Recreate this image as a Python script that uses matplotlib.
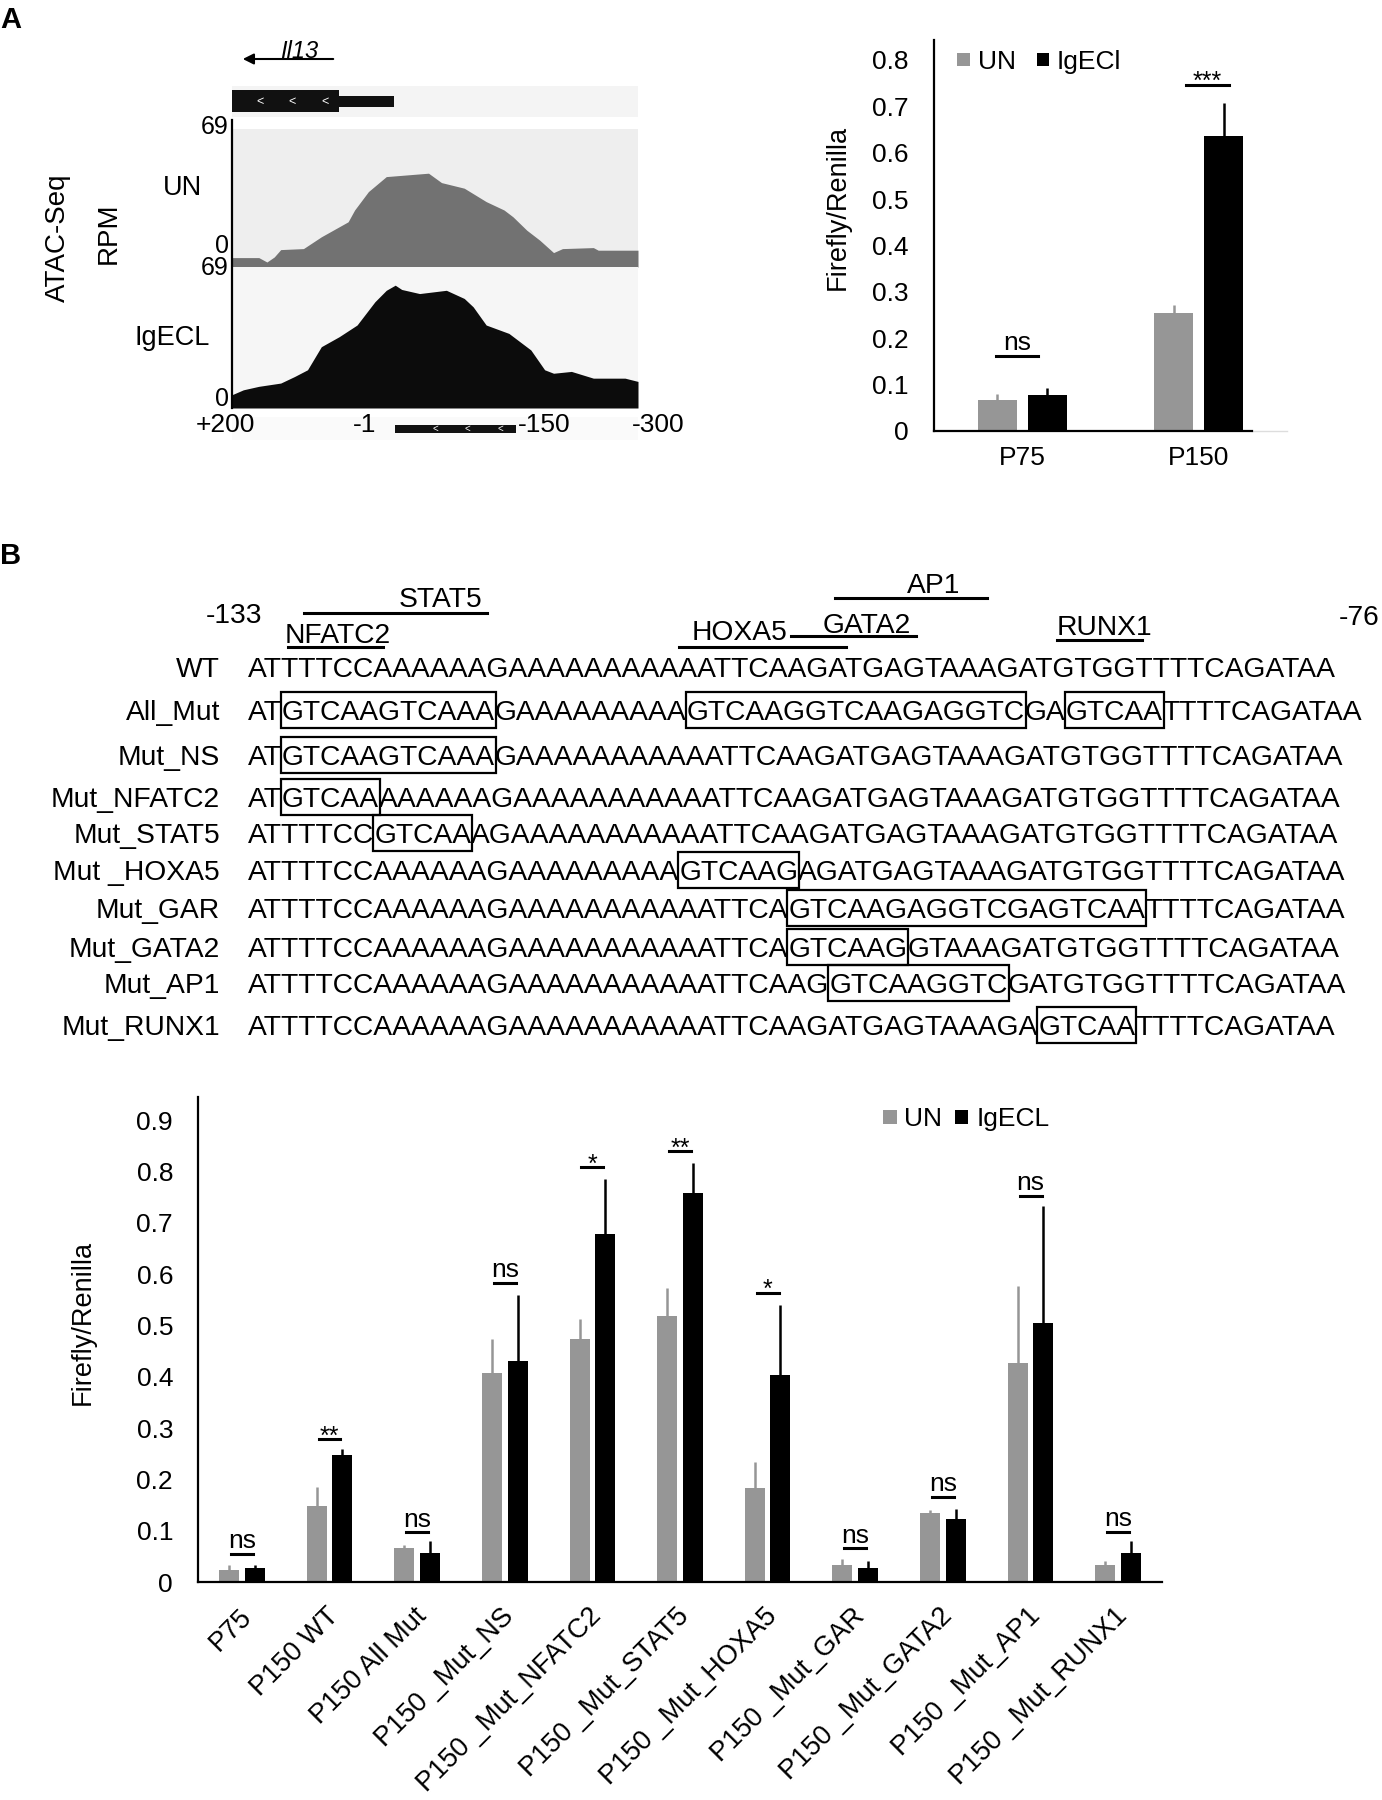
import re
import matplotlib.pyplot as plt
from matplotlib.patches import Rectangle

plt.rcParams['font.family'] = ['Liberation Sans', 'DejaVu Sans']
plt.rcParams['axes.linewidth'] = 1.6

# ---------------- panel A, ATAC-seq coverage (bp from TSS, RPM) ----------------
atac_un_pos = [200, 167, 157, 148, 140, 112, 90, 68, 57, 49, 32, 10, -42, -58, -86,
               -113, -135, -146, -163, -179, -196, -207, -245, -251, -300]
atac_un_rpm = [4.7, 4.7, 2.5, 5.0, 8.7, 9.2, 15.1, 20.1, 22.6, 28.5, 37.7, 45.2, 46.9, 42.2, 39.4,
               32.7, 28.5, 25.1, 18.4, 13.4, 7.2, 9.2, 9.7, 8.4, 8.4]
atac_ig_pos = [200, 186, 167, 140, 123, 107, 90, 68, 46, 24, 10, -1, -9, -31, -64, -86,
               -97, -113, -141, -168, -185, -196, -218, -245, -262, -284, -300]
atac_ig_rpm = [6.5, 8.9, 10.6, 12.2, 15.4, 18.7, 30.0, 34.9, 40.6, 52.0, 57.6, 60.1, 58.0, 56.0, 57.6, 53.6,
               49.5, 40.6, 36.5, 28.4, 18.7, 17.0, 17.9, 14.6, 14.6, 14.6, 13.0]
track_max = 69
exon_span = (200, 68)
utr_span = (68, 0)
probe_span = (-1, -150)

# ---------------- panel A, luciferase ----------------
cats_a = ['P75', 'P150']
un_a = [0.067, 0.254]
un_a_err = [0.013, 0.018]
ig_a = [0.078, 0.636]
ig_a_err = [0.015, 0.071]
sig_a = ['ns', '***']
sig_a_y = [0.162, 0.746]

# ---------------- panel B, sequences ----------------
seq_names = ['WT', 'All_Mut', 'Mut_NS', 'Mut_NFATC2', 'Mut_STAT5', 'Mut _HOXA5',
             'Mut_GAR', 'Mut_GATA2', 'Mut_AP1', 'Mut_RUNX1']
seq_rows = [
    'ATTTTCCAAAAAAG' 'AAAAAAAAAAA' 'TTCAAGATGAGTAAAGATGTGGTTTTCAGATAA',
    'AT' '[GTCAAGTCAAA]' 'G' 'AAAAAAAAA' '[GTCAAGGTCAAGAGGTC]' 'GA' '[GTCAA]' 'TTTTCAGATAA',
    'AT' '[GTCAAGTCAAA]' 'G' 'AAAAAAAAAAA' 'TTCAAGATGAGTAAAGATGTGGTTTTCAGATAA',
    'AT' '[GTCAA]' 'AAAAAAG' 'AAAAAAAAAAA' 'TTCAAGATGAGTAAAGATGTGGTTTTCAGATAA',
    'ATTTTCC' '[GTCAA]' 'AG' 'AAAAAAAAAAA' 'TTCAAGATGAGTAAAGATGTGGTTTTCAGATAA',
    'ATTTTCCAAAAAAG' 'AAAAAAAAA' '[GTCAAG]' 'AGATGAGTAAAGATGTGGTTTTCAGATAA',
    'ATTTTCCAAAAAAG' 'AAAAAAAAAAA' 'TTCA' '[GTCAAGAGGTCGAGTCAA]' 'TTTTCAGATAA',
    'ATTTTCCAAAAAAG' 'AAAAAAAAAAA' 'TTCA' '[GTCAAG]' 'GTAAAGATGTGGTTTTCAGATAA',
    'ATTTTCCAAAAAAG' 'AAAAAAAAAAA' 'TTCAAG' '[GTCAAGGTC]' 'GATGTGGTTTTCAGATAA',
    'ATTTTCCAAAAAAG' 'AAAAAAAAAAA' 'TTCAAGATGAGTAAAGA' '[GTCAA]' 'TTTTCAGATAA',
]
# motif name, label centre (x, y), bar (x0, x1, y)  -- pixel layout
motifs = [
    ('STAT5', (440, 597), (304, 487, 613)),
    ('NFATC2', (338, 633), (288, 383, 647)),
    ('HOXA5', (740, 630), (679, 846, 647)),
    ('GATA2', (867, 623), (791, 916, 636)),
    ('AP1', (934, 583), (835, 987, 598)),
    ('RUNX1', (1104, 625), (1057, 1142, 640)),
]

# ---------------- panel B, luciferase ----------------
cats_b = ['P75', 'P150 WT', 'P150 All Mut', 'P150 _Mut_NS', 'P150 _Mut_NFATC2', 'P150 _Mut_STAT5',
          'P150 _Mut_HOXA5', 'P150 _Mut_GAR', 'P150 _Mut_GATA2', 'P150 _Mut_AP1', 'P150 _Mut_RUNX1']
un_b = [0.024, 0.148, 0.066, 0.408, 0.474, 0.519, 0.183, 0.033, 0.134, 0.427, 0.033]
un_b_err = [0.009, 0.037, 0.007, 0.065, 0.039, 0.053, 0.050, 0.012, 0.006, 0.150, 0.007]
ig_b = [0.027, 0.248, 0.056, 0.431, 0.678, 0.758, 0.404, 0.027, 0.122, 0.504, 0.056]
ig_b_err = [0.006, 0.011, 0.023, 0.128, 0.107, 0.058, 0.135, 0.014, 0.020, 0.228, 0.023]
sig_b = ['ns', '**', 'ns', 'ns', '*', '**', '*', 'ns', 'ns', 'ns', 'ns']
sig_b_y = [0.055, 0.278, 0.097, 0.583, 0.808, 0.839, 0.563, 0.066, 0.166, 0.752, 0.098]

GRAY = '#969696'
SEQ_FS = 20.3
W, H = 1382, 1800
fig = plt.figure(figsize=(W / 100, H / 100), dpi=100)

# pixel-coordinate overlay for labels, sequences and legends (drawn on top)
ov = fig.add_axes([0, 0, 1, 1])
ov.set_xlim(0, W)
ov.set_ylim(H, 0)
ov.axis('off')
ov.set_zorder(5)


def px_axes(x0, y0, x1, y1):
    return fig.add_axes([x0 / W, 1 - y1 / H, (x1 - x0) / W, (y1 - y0) / H])


def label(x, y, s, size=20, ha='center', **kw):
    # y = middle of the capitals, in pixels from the top
    return ov.text(x, y + 0.358 * size * 100 / 72, s, fontsize=size, ha=ha, va='baseline', **kw)


def bare(ax):
    ax.set_xticks([])
    ax.set_yticks([])
    for sp in ax.spines.values():
        sp.set_visible(False)


# ======================= panel A =======================
label(0, 18, 'A', size=21, ha='left', fontweight='bold')

# gene model
g = px_axes(232, 86, 638, 117)
g.set_xlim(200, -300)
g.set_ylim(0, 1)
g.set_facecolor('#f4f4f4')
bare(g)
g.fill_between(exon_span, 0.16, 0.87, color='#111111', lw=0)
g.fill_between(utr_span, 0.32, 0.68, color='#111111', lw=0)
for p in (166, 126, 86):
    g.text(p, 0.5, '<', color='white', fontsize=9, ha='center', va='center')

ov.annotate('', xy=(240, 59), xytext=(336, 59),
            arrowprops=dict(arrowstyle='-|>', color='k', lw=1.5, mutation_scale=16))
label(299, 50, 'Il13', size=17, style='italic')

# coverage tracks
t1 = px_axes(232, 129, 638, 267)
t1.set_facecolor('#eeeeee')
t1.fill_between(atac_un_pos, atac_un_rpm, 0, color='#727272', lw=0)
t2 = px_axes(232, 267, 638, 408)
t2.set_facecolor('#f6f6f6')
t2.fill_between(atac_ig_pos, atac_ig_rpm, 0, color='#0c0c0c', lw=0)
for t in (t1, t2):
    t.set_xlim(200, -300)
    t.set_ylim(0, track_max)
    bare(t)
ov.plot([232, 232], [120, 408], color='k', lw=1.6)

for yy, s in [(125, '69'), (244, '0'), (266, '69'), (397, '0')]:
    label(229, yy, s, size=18, ha='right')
label(183, 185, 'UN', size=19.5)
label(172, 335, 'IgECL', size=19.5)
ov.text(58, 238, 'ATAC-Seq', rotation=90, fontsize=20, ha='center', va='center')
ov.text(109, 233, 'RPM', rotation=90, fontsize=20, ha='center', va='center')

# probe bar under the tracks
pb = px_axes(232, 417, 638, 440)
pb.set_xlim(200, -300)
pb.set_ylim(0, 1)
pb.set_facecolor('#fafafa')
bare(pb)
pb.fill_between(probe_span, 0.3, 0.66, color='#111111', lw=0)
for p in (-50, -90, -130):
    pb.text(p, 0.48, '<', color='white', fontsize=7, ha='center', va='center')
label(225, 423, '+200', size=19)
label(376, 423, '-1', size=19, ha='right')
label(518, 423, '-150', size=19, ha='left')
label(658, 423, '-300', size=19)


def bar_panel(ax, cats, un, un_err, ig, ig_err, width, off, ymax, fs):
    x = list(range(len(cats)))
    xu = [i - off for i in x]
    xi = [i + off for i in x]
    ax.bar(xu, un, width, color=GRAY, zorder=2)
    ax.bar(xi, ig, width, color='black', zorder=2)
    ax.errorbar(xu, un, yerr=[[0] * len(un), un_err], fmt='none', ecolor=GRAY, elinewidth=1.8, capsize=0, zorder=3)
    ax.errorbar(xi, ig, yerr=[[0] * len(ig), ig_err], fmt='none', ecolor='black', elinewidth=1.8, capsize=0, zorder=3)
    ax.set_xlim(-0.5, len(cats) - 0.5)
    ax.set_ylim(0, ymax)
    ax.set_facecolor('none')
    ax.spines['top'].set_visible(False)
    ax.spines['right'].set_visible(False)
    ticks = [i / 10 for i in range(int(ymax * 10) + 1)]
    ax.set_yticks(ticks)
    ax.set_yticklabels(['0' if v == 0 else f'{v:.1f}' for v in ticks], fontsize=fs)
    ax.tick_params(axis='y', length=0, pad=18)


# luciferase, panel A
a1 = px_axes(934, 40, 1287, 431)
bar_panel(a1, cats_a, un_a, un_a_err, ig_a, ig_a_err, 0.221, 0.141, 0.843, 19)
a1.set_xticks(range(len(cats_a)))
a1.set_xticklabels(cats_a, fontsize=19)
a1.tick_params(axis='x', length=0, pad=11)
a1.spines['bottom'].set_bounds(-0.5, 1.3)
a1.plot([1.3, 1.5], [0, 0], color='#dddddd', lw=1, clip_on=False)
for i, (s, yv) in enumerate(zip(sig_a, sig_a_y)):
    dx = -0.03 if i == 0 else 0.05
    a1.plot([i + dx - 0.12, i + dx + 0.12], [yv, yv], color='k', lw=2.2)
    a1.annotate(s, (i + dx, yv), xytext=(0, 4 if s == 'ns' else -3), textcoords='offset points',
                ha='center', va='baseline', fontsize=19 if s == 'ns' else 18)
ov.text(838, 207, 'Firefly/Renilla', rotation=90, fontsize=19.5, ha='center', va='center')
ov.add_patch(Rectangle((957, 53), 13, 13, color=GRAY, lw=0))
label(978, 60, 'UN', size=19, ha='left')
ov.add_patch(Rectangle((1037, 53), 12, 13, color='black', lw=0))
label(1057, 60, 'IgECl', size=19, ha='left')

# ======================= panel B =======================
label(0, 554, 'B', size=21, ha='left', fontweight='bold')
label(234, 613, '-133', size=SEQ_FS)
label(1359, 615, '-76', size=SEQ_FS)
for name, (tx, ty), (x0, x1, ly) in motifs:
    label(tx, ty, name, size=SEQ_FS)
    ov.plot([x0, x1], [ly, ly], color='k', lw=2.2)

renderer = fig.canvas.get_renderer()
row_y = [667, 710, 755, 797, 833, 870, 908, 947, 983, 1025]
cap = 0.358 * SEQ_FS * 100 / 72
for yy, name, row in zip(row_y, seq_names, seq_rows):
    label(220, yy, name, size=SEQ_FS, ha='right')
    x = 248
    for piece in re.split(r'(\[[^\]]+\])', row):
        if not piece:
            continue
        boxed = piece.startswith('[')
        s = piece.strip('[]')
        t = ov.text(x, yy + cap, s, fontsize=SEQ_FS, ha='left', va='baseline')
        w = t.get_window_extent(renderer).width
        if boxed:
            ov.add_patch(Rectangle((x - 1, yy - 18), w + 2, 36, fill=False, ec='k', lw=1.6))
        x += w

# luciferase, panel B
b1 = px_axes(198, 1097, 1162, 1582)
bar_panel(b1, cats_b, un_b, un_b_err, ig_b, ig_b_err, 0.228, 0.146, 0.945, 19)
b1.set_xticks([])
for i, s in enumerate(cats_b):
    b1.annotate(s, (i, 0), xycoords=('data', 'axes fraction'), xytext=(4, -22), textcoords='offset points',
                rotation=45, rotation_mode='anchor', ha='right', va='center', fontsize=19.5)
for i, (s, yv) in enumerate(zip(sig_b, sig_b_y)):
    b1.plot([i - 0.125, i + 0.125], [yv, yv], color='k', lw=2.2)
    b1.annotate(s, (i, yv), xytext=(0, 4 if s == 'ns' else -3), textcoords='offset points',
                ha='center', va='baseline', fontsize=19 if s == 'ns' else 18)
ov.text(83, 1322, 'Firefly/Renilla', rotation=90, fontsize=19.5, ha='center', va='center')
ov.add_patch(Rectangle((883, 1110), 14, 14, color=GRAY, lw=0))
label(904, 1117, 'UN', size=19, ha='left')
ov.add_patch(Rectangle((955, 1110), 13, 14, color='black', lw=0))
label(977, 1117, 'IgECL', size=19, ha='left')

fig.savefig('out.png', dpi=100)
